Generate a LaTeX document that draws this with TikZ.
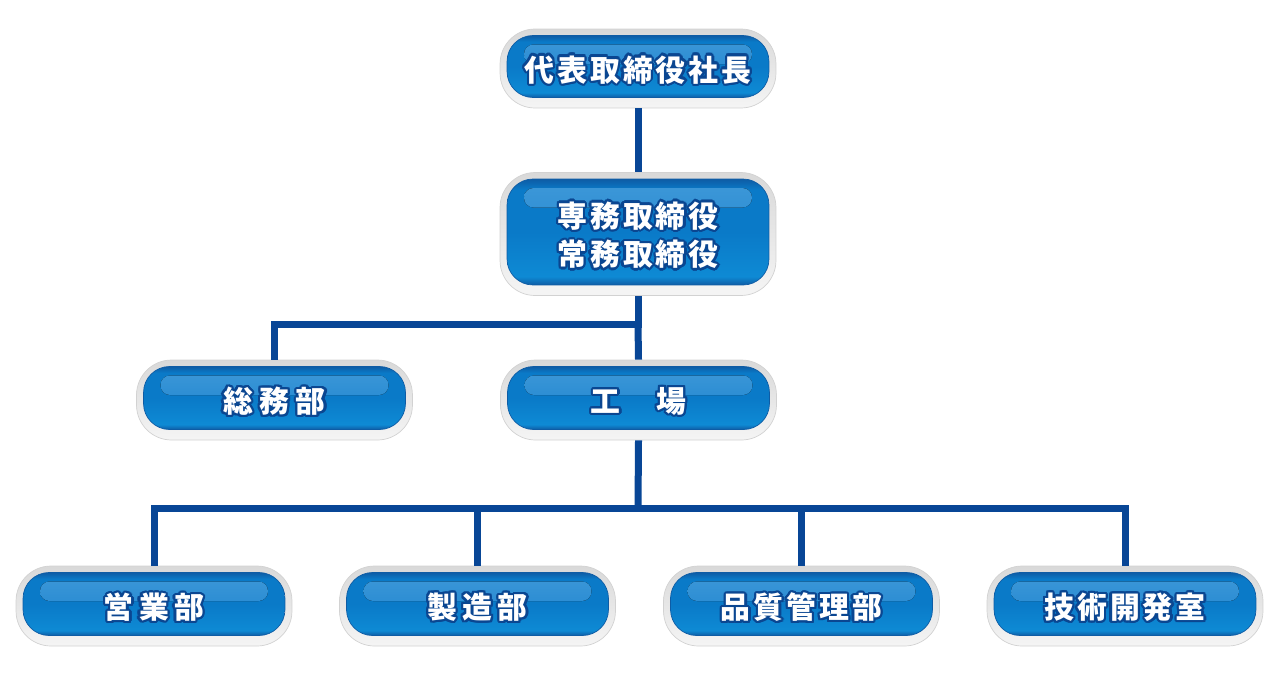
\documentclass[tikz,border=0pt]{standalone}
\usepackage{fontspec}
\usepackage[copies]{contour}
\newfontfamily\cjk[LetterSpace=10]{Noto Sans CJK JP}
\definecolor{linkblue}{RGB}{8,70,150}
\definecolor{postdark}{RGB}{10,70,145}
\definecolor{postrim}{RGB}{14,92,165}
\definecolor{postmid}{RGB}{10,122,200}
\definecolor{postlow}{RGB}{14,138,212}
\definecolor{glosstop}{RGB}{62,152,216}
\definecolor{glossbot}{RGB}{24,130,206}
\definecolor{framedge}{RGB}{210,210,210}
\pgfdeclareverticalshading{postshade}{100bp}{color(0bp)=(postrim); color(25bp)=(postrim);
  color(29bp)=(postlow); color(50bp)=(postmid); color(70bp)=(postmid); color(75bp)=(postrim);
  color(100bp)=(postrim)}
\contourlength{1.3pt}
\newcommand\post[4]{%
  \node[frame, minimum height=#3+0.34cm] (#1f) at #2 {};
  \node[postbox, minimum height=#3] (#1) at ([yshift=0.04cm]#1f.center) {#4};
}
\newcommand\ctext[1]{\raisebox{-2.5pt}[\height][\depth]{\contour{postdark}{#1}}}
\begin{document}
\begin{tikzpicture}[x=0.02cm,y=-0.02cm,
  frame/.style={rounded corners=0.7cm, minimum width=5.52cm, inner sep=0pt,
    draw=framedge, top color=black!15, bottom color=black!4},
  postbox/.style={rounded corners=0.52cm, minimum width=5.24cm, inner sep=0pt,
    draw=postrim, shading=postshade, text=white, align=center,
    font=\cjk\bfseries\fontsize{17}{22}\selectfont,
    path picture={\fill[gloss] ([shift={(0.34cm,-0.18cm)}]path picture bounding box.north west)
      rectangle ([shift={(-0.34cm,-0.57cm)}]path picture bounding box.north east);}},
  gloss/.style={rounded corners=0.19cm, top color=glosstop, bottom color=glossbot},
  link/.style={draw=linkblue, line width=0.14cm}]
\useasboundingbox (0,0) rectangle (1280,680);
% connectors
\coordinate (j1) at (638,324);
\coordinate (j2) at (638,508);
\post{top}{(638,68.5)}{1.24cm}{\ctext{代表取締役社長}}
\post{sen}{(638,234)}{2.12cm}{\ctext{専務取締役}\\\ctext{常務取締役}}
\post{som}{(274.5,400)}{1.26cm}{\ctext{\addfontfeature{LetterSpace=22}総務部}}
\post{koj}{(638.5,400)}{1.26cm}{\ctext{工　場}}
\post{eig}{(154,606)}{1.26cm}{\ctext{\addfontfeature{LetterSpace=18}営業部}}
\post{sei}{(477.5,606)}{1.26cm}{\ctext{\addfontfeature{LetterSpace=18}製造部}}
\post{hin}{(801.5,606)}{1.26cm}{\ctext{品質管理部}}
\post{gij}{(1125,606)}{1.26cm}{\ctext{技術開発室}}
\draw[link] (topf.south) -- (senf.north);
\draw[link] (senf.south) -- (j1) -| (somf.north);
\draw[link] (j1) -- (kojf.north);
\draw[link] (kojf.south) -- (j2);
\foreach \n in {eig,sei,hin,gij}
  \draw[link] (j2) -| (\n f.north);
\end{tikzpicture}
\end{document}
